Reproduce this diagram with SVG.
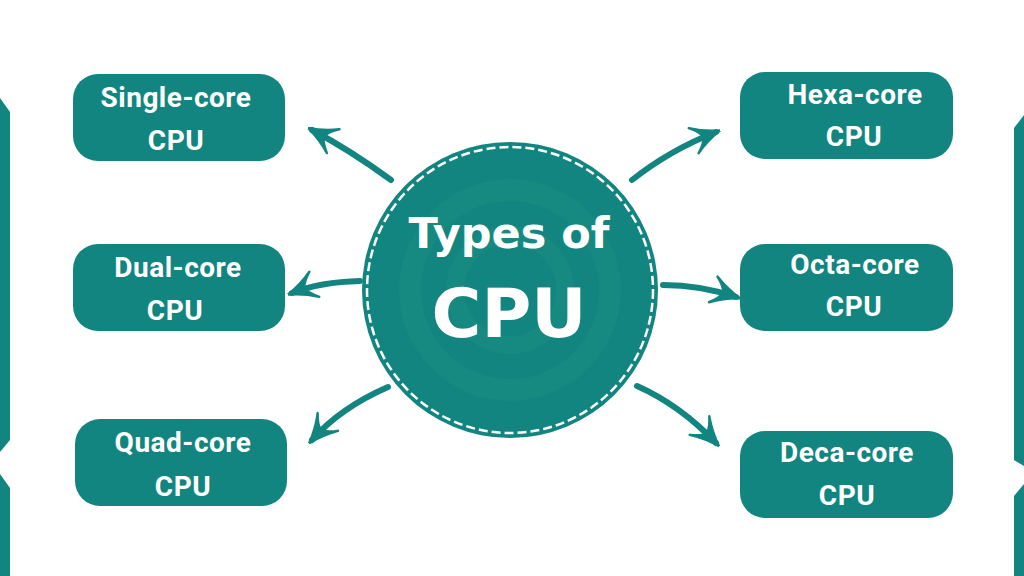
<svg xmlns="http://www.w3.org/2000/svg" width="1024" height="576" viewBox="0 0 1024 576">
<style>
.box{fill:#138580}
.lbl{font-family:Roboto,"Open Sans",sans-serif;font-weight:700;font-size:28px;fill:#fff;text-anchor:middle;letter-spacing:0.5px}
.con{fill:none;stroke:#138580;stroke-width:6;stroke-linecap:round;marker-end:url(#ah)}
.ttl{font-family:"DejaVu Sans","Liberation Sans",sans-serif;font-weight:700;fill:#fff;text-anchor:middle}
</style>
<defs>
<marker id="ah" viewBox="0 0 10 10" refX="8.5" refY="5" markerWidth="5" markerHeight="5" orient="auto" markerUnits="strokeWidth">
<path d="M0.5,0.5 Q5,3.5 10,5 Q5,6.5 0.5,9.5 Q3.5,7 4,5 Q3.5,3 0.5,0.5Z" fill="#138580" stroke="#138580" stroke-width="0.8" stroke-linejoin="round"/>
</marker>
</defs>
<rect width="1024" height="576" fill="#fff"/>
<g id="edges">
<path d="M0,98 L10,112 L10,440 L0,452Z" fill="#138580"/>
<path d="M0,474 L10,488 L10,576 L0,576Z" fill="#138580"/>
<path d="M1024,115 L1014,128 L1014,460 L1024,466Z" fill="#138580"/>
<path d="M1024,484 L1014,496 L1014,576 L1024,576Z" fill="#138580"/>
</g>
<g id="center">
<circle cx="510" cy="290" r="148" fill="#138580"/>
<circle cx="510" cy="290" r="143" fill="none" stroke="#fff" stroke-width="2.5" stroke-dasharray="9 4"/>
<circle cx="510" cy="290" r="100" fill="none" stroke="#18897f" stroke-width="22" opacity="0.8"/>
<circle cx="510" cy="290" r="55" fill="none" stroke="#18897f" stroke-width="18" opacity="0.8"/>
<text class="ttl" x="509" y="248" font-size="43">Types of</text>
<text class="ttl" x="509" y="337" font-size="68">CPU</text>
</g>
<g id="n1"><rect class="box" x="73" y="74" width="212" height="87" rx="25"/><text class="lbl" x="176" y="107">Single-core</text><text class="lbl" x="176" y="150">CPU</text></g>
<g id="n2"><rect class="box" x="73" y="244" width="212" height="87" rx="25"/><text class="lbl" x="178" y="277">Dual-core</text><text class="lbl" x="175" y="320">CPU</text></g>
<g id="n3"><rect class="box" x="75" y="419" width="212" height="87" rx="25"/><text class="lbl" x="183" y="452">Quad-core</text><text class="lbl" x="183" y="496">CPU</text></g>
<g id="n4"><rect class="box" x="740" y="72" width="213" height="87" rx="25"/><text class="lbl" x="855" y="104">Hexa-core</text><text class="lbl" x="854" y="146">CPU</text></g>
<g id="n5"><rect class="box" x="740" y="244" width="213" height="87" rx="25"/><text class="lbl" x="855" y="274">Octa-core</text><text class="lbl" x="854" y="316">CPU</text></g>
<g id="n6"><rect class="box" x="740" y="431" width="213" height="87" rx="25"/><text class="lbl" x="847" y="462">Deca-core</text><text class="lbl" x="847" y="505">CPU</text></g>
<g id="connectors">
<path class="con" d="M391,180 Q350,150 312,130"/>
<path class="con" d="M632,180 Q670,150 716,132"/>
<path class="con" d="M360,281 Q320,282 292,293"/>
<path class="con" d="M663,285 Q700,285 736,297"/>
<path class="con" d="M388,387 Q340,408 312,440"/>
<path class="con" d="M637,386 Q680,405 716,443"/>
</g>
</svg>
